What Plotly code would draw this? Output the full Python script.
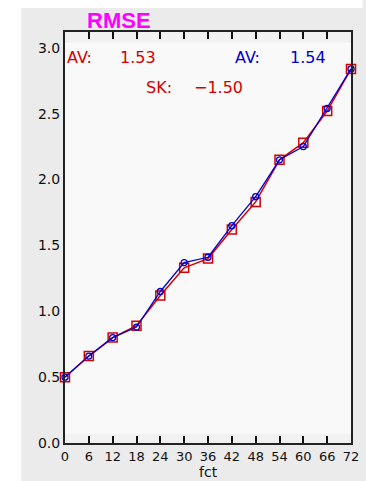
import plotly.graph_objects as go

# forecast hours and RMSE of the two runs
fct = [0, 6, 12, 18, 24, 30, 36, 42, 48, 54, 60, 66, 72]
rmse_red = [0.50, 0.66, 0.80, 0.89, 1.12, 1.33, 1.40, 1.62, 1.83, 2.15, 2.28, 2.52, 2.84]
rmse_blue = [0.50, 0.66, 0.80, 0.88, 1.15, 1.37, 1.41, 1.65, 1.87, 2.15, 2.25, 2.54, 2.84]
y_ticks = [0.0, 0.5, 1.0, 1.5, 2.0, 2.5, 3.0]

av_red = sum(rmse_red) / len(rmse_red)
av_blue = sum(rmse_blue) / len(rmse_blue)
sk_text = "\u22121.50"

RED = "#d40000"
BLUE = "#0000d0"

W, H = 366, 481
L, R, T, B = 65, 7, 32, 38
PW, PH = W - L - R, H - T - B


def px(x):
    return (x - L) / PW


def py(y):
    return (H - B - y) / PH


fig = go.Figure()

fig.add_trace(go.Scatter(
    x=fct, y=rmse_red, mode="lines+markers",
    line=dict(color=RED, width=1.5),
    marker=dict(symbol="square-open", size=9, color=RED, line=dict(width=1.5)),
    cliponaxis=False, showlegend=False,
))
fig.add_trace(go.Scatter(
    x=fct, y=rmse_blue, mode="lines+markers",
    line=dict(color=BLUE, width=1.3),
    marker=dict(symbol="circle-open", size=6, color=BLUE, line=dict(width=1.3)),
    cliponaxis=False, showlegend=False,
))

shapes = [
    # white margins at the top and left of the gray page
    dict(type="rect", xref="paper", yref="paper", x0=px(-5), x1=px(W + 5),
         y0=py(8), y1=py(-5), fillcolor="white", line_width=0, layer="below"),
    dict(type="rect", xref="paper", yref="paper", x0=px(-5), x1=px(20),
         y0=py(H + 5), y1=py(-5), fillcolor="white", line_width=0, layer="below"),
    # lighter inner data area
    dict(type="rect", xref="x", yref="y", x0=0, x1=72, y0=0.07, y1=3.04,
         fillcolor="#f9f9f9", line_width=0, layer="below"),
]

font_txt = "DejaVu Sans"
annotations = [
    dict(text="AV:", x=px(65), y=py(57), xanchor="left", font=dict(color=RED, size=16)),
    dict(text=f"{av_red:.2f}", x=px(140), y=py(57), font=dict(color=RED, size=16)),
    dict(text="AV:", x=px(253), y=py(57), font=dict(color=BLUE, size=16)),
    dict(text=f"{av_blue:.2f}", x=px(315), y=py(57), font=dict(color=BLUE, size=16)),
    dict(text="SK:", x=px(162), y=py(88), font=dict(color=RED, size=16)),
    dict(text=sk_text, x=px(223), y=py(88), font=dict(color=RED, size=16)),
    dict(text="RMSE", x=px(121), y=py(20),
         font=dict(color="#ff00ff", size=22, family="Liberation Sans", weight="bold")),
    dict(text="fct", x=px(212), y=py(472), font=dict(color="#111", size=14)),
]
for a in annotations:
    a.update(xref="paper", yref="paper", showarrow=False, yanchor="middle")
    a.setdefault("xanchor", "center")

fig.update_layout(
    width=W, height=H,
    margin=dict(l=L, r=R, t=T, b=B, pad=0),
    paper_bgcolor="#ebebeb",
    plot_bgcolor="#f1f1f1",
    font=dict(family=font_txt, size=13, color="#111"),
    shapes=shapes,
    annotations=annotations,
    showlegend=False,
)
fig.update_xaxes(
    range=[0, 72], tickvals=fct, ticks="inside", ticklen=7, tickwidth=1.5,
    tickcolor="#111", showline=True, linecolor="#222", linewidth=2,
    mirror="ticks", showgrid=False, zeroline=False,
    tickfont=dict(size=13),
)
fig.update_yaxes(
    range=[0, 3.12], tickvals=y_ticks, tickformat=".1f", ticks="",
    showline=True, linecolor="#222", linewidth=2, mirror=True,
    showgrid=False, zeroline=False, tickfont=dict(size=14),
)

fig.write_html("out.html")
